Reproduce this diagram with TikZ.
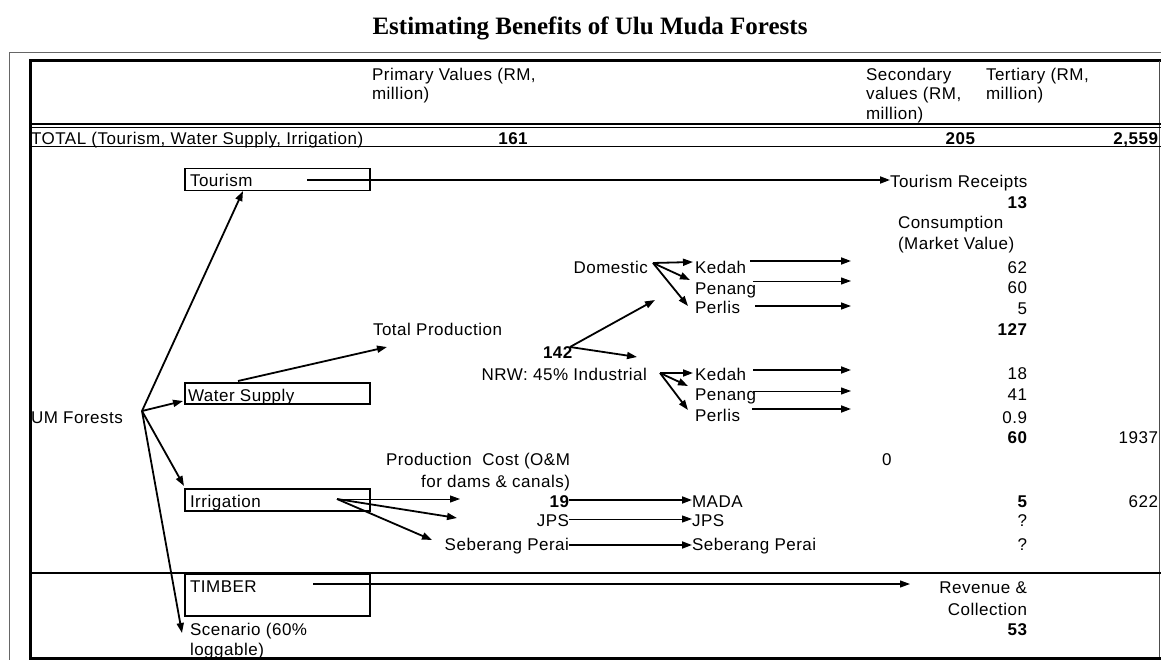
\documentclass[tikz,border=0pt]{standalone}
\usepackage{fontspec}
\setmainfont{Liberation Sans}[LetterSpace=3]
\newfontfamily\titlefont{Liberation Serif}
\usetikzlibrary{arrows.meta}
\begin{document}
\begin{tikzpicture}[x=1pt,y=-1pt,
  txt/.style={inner sep=0pt, outer sep=0pt, font=\fontsize{17}{20}\selectfont},
  lw/.style={txt, anchor=base west},
  le/.style={txt, anchor=base east},
  bw/.style={lw, font=\fontsize{17}{20}\selectfont\bfseries},
  be/.style={le, font=\fontsize{17}{20}\selectfont\bfseries},
  tip/.style={-{Triangle[length=10pt,width=7pt]}},
  arrk/.style={tip, line width=1.8pt},
  arrm/.style={tip, line width=1.4pt},
  arrt/.style={tip, line width=1pt},
  frameline/.style={line width=3pt},
  cbox/.style={draw, line width=1.5pt, inner sep=0pt, anchor=north west}]
\useasboundingbox (0,0) rectangle (1161,660);
% frames
\draw[line width=0.8pt, black!60] (9,661) -- (9,52) -- (1162,52);
\draw[frameline] (30,661) -- (30,61) -- (1162,61);
\draw[line width=1pt, black!70] (1159.5,61) -- (1159.5,660);
\draw[frameline] (30,658.5) -- (1162,658.5);
\draw[line width=2.5pt] (30,124) -- (1162,124);
\draw[line width=0.8pt] (30,127.5) -- (1162,127.5);
\draw[line width=1pt] (30,147) -- (1162,147);
\draw[line width=1.3pt] (30,573) -- (1162,573);
% title
\node[inner sep=0pt, anchor=base, font=\titlefont\bfseries\fontsize{25}{29}\selectfont] (title) at (590,35) {Estimating Benefits of Ulu Muda Forests};
% header
\node[lw] (pv1) at (372,81) {Primary Values (RM,};
\node[lw] (pv2) at (372,100) {million)};
\node[lw] (sv1) at (866,81) {Secondary};
\node[lw] (sv2) at (866,100) {values (RM,};
\node[lw] (sv3) at (866,120) {million)};
\node[lw] (tv1) at (986,81) {Tertiary (RM,};
\node[lw] (tv2) at (986,100) {million)};
% total row
\node[lw] (tot) at (31,145) {TOTAL (Tourism, Water Supply, Irrigation)};
\node[txt, anchor=base, font=\fontsize{17}{20}\selectfont\bfseries] (t161) at (513,145) {161};
\node[be] (t205) at (975,145) {205};
\node[be] (t2559) at (1158,145) {2,559};
% boxes
\node[cbox, minimum width=185pt, minimum height=22pt] (tourbox) at (184,168) {};
\node[lw] (tourism) at (190,187) {Tourism};
\node[cbox, minimum width=185pt, minimum height=21pt] (wsbox) at (184,382) {};
\node[lw] (ws) at (188,401) {Water Supply};
\node[cbox, minimum width=185pt, minimum height=22pt] (irbox) at (184,488) {};
\node[lw] (irr) at (190,507) {Irrigation};
\node[cbox, minimum width=185pt, minimum height=42pt] (timbox) at (184,573) {};
\node[lw] (timber) at (190,592) {TIMBER};
\node[lw] (scen1) at (190,635) {Scenario (60\%};
\node[lw] (scen2) at (190,655) {loggable)};
\node[lw] (umf) at (31,423) {UM Forests};
% right column
\node[lw] (trec) at (890,188) {Tourism Receipts};
\node[be] (n13) at (1027,209) {13};
\node[lw] (cons1) at (898,229) {Consumption};
\node[lw] (cons2) at (898,250) {(Market Value)};
\node[le] (n62) at (1027,273) {62};
\node[le] (n60a) at (1027,293) {60};
\node[le] (n5a) at (1027,314) {5};
\node[be] (n127) at (1027,335) {127};
\node[le] (n18) at (1027,379) {18};
\node[le] (n41) at (1027,400) {41};
\node[le] (n09) at (1027,423) {0.9};
\node[be] (n60b) at (1027,443) {60};
\node[le] (n1937) at (1158,443) {1937};
\node[lw] (n0) at (882,465) {0};
\node[be] (n5b) at (1027,507) {5};
\node[le] (q1) at (1027,526) {?};
\node[le] (q2) at (1027,550) {?};
\node[le] (n622) at (1158,507) {622};
\node[le] (rev1) at (1027,593) {Revenue \&};
\node[le] (rev2) at (1027,615) {Collection};
\node[be] (n53) at (1027,635) {53};
% middle
\node[lw] (totprod) at (373,335) {Total Production};
\node[bw] (n142) at (543,358) {142};
\node[le] (nrw) at (647,380) {NRW: 45\% Industrial};
\node[le] (dom) at (648,273) {Domestic};
\node[lw] (ked1) at (695,273) {Kedah};
\node[lw] (pen1) at (695,294) {Penang};
\node[lw] (per1) at (695,313) {Perlis};
\node[lw] (ked2) at (695,380) {Kedah};
\node[lw] (pen2) at (695,400) {Penang};
\node[lw] (per2) at (695,421) {Perlis};
\node[le] (pc1) at (570,465) {Production\ \ Cost (O\&M};
\node[le] (pc2) at (570,487) {for dams \& canals)};
\node[be] (n19) at (569,507) {19};
\node[le] (jpsL) at (569,526) {JPS};
\node[le] (sebL) at (569,550) {Seberang Perai};
\node[lw] (mada) at (692,507) {MADA};
\node[lw] (jpsR) at (692,526) {JPS};
\node[lw] (sebR) at (692,550) {Seberang Perai};
% coordinates for connector ends
\coordinate (um) at (142,411);
\coordinate (tourIn) at (243,191);
\coordinate (wsIn) at (183,401);
\coordinate (irIn) at (184,486);
\coordinate (scIn) at (182,633);
\coordinate (tourOut) at (307,180);
\coordinate (wsOut) at (238,381);
\coordinate (tpIn) at (387,347);
\coordinate (s142) at (570,347);
\coordinate (domIn) at (655,300);
\coordinate (indIn) at (637,357);
\coordinate (domS) at (653,263);
\coordinate (domK) at (693,262);
\coordinate (domP) at (690,280);
\coordinate (domL) at (688,306);
\coordinate (indS) at (660,373);
\coordinate (indK) at (693,373);
\coordinate (indP) at (688,386);
\coordinate (indL) at (688,410);
\coordinate (k1a) at (750,261); \coordinate (k1b) at (851,261);
\coordinate (p1a) at (753,281); \coordinate (p1b) at (851,281);
\coordinate (l1a) at (755,306); \coordinate (l1b) at (851,306);
\coordinate (k2a) at (753,370); \coordinate (k2b) at (851,370);
\coordinate (p2a) at (753,391); \coordinate (p2b) at (851,391);
\coordinate (l2a) at (752,409); \coordinate (l2b) at (851,409);
\coordinate (irS) at (337,499);
\coordinate (irA) at (460,499);
\coordinate (irB) at (457,518);
\coordinate (irC) at (432,540);
\coordinate (timA) at (313,584);
\coordinate (timT) at (910,584);
\coordinate (timM1) at (483,584);
\coordinate (timM2) at (610,584);
\coordinate (timM3) at (860,584);
% connectors
\draw[arrk] (um) -- (tourIn);
\draw[arrk] (um) -- (wsIn);
\draw[arrk] (um) -- (irIn);
\draw[arrk] (um) -- (scIn);
\draw[arrk] (tourOut) -- (trec.west |- tourOut);
\draw[arrk] (wsOut) -- (tpIn);
\draw[arrk] (s142) -- (domIn);
\draw[arrk] (s142) -- (indIn);
\draw[arrk] (domS) -- (domK);
\draw[arrk] (domS) -- (domP);
\draw[arrk] (domS) -- (domL);
\draw[arrk] (indS) -- (indK);
\draw[arrk] (indS) -- (indP);
\draw[arrk] (indS) -- (indL);
\draw[arrk] (k1a) -- (k1b);
\draw[arrt] (p1a) -- (p1b);
\draw[arrm] (l1a) -- (l1b);
\draw[arrk] (k2a) -- (k2b);
\draw[arrt] (p2a) -- (p2b);
\draw[arrk] (l2a) -- (l2b);
\draw[arrt] (irS) -- (irA);
\draw[arrk] (irS) -- (irB);
\draw[arrk] (irS) -- (irC);
\draw[arrk] (n19.east |- 0,500) -- (mada.west |- 0,500);
\draw[arrt] (jpsL.east |- 0,519) -- (jpsR.west |- 0,519);
\draw[arrk] (sebL.east |- 0,545) -- (sebR.west |- 0,545);
\draw[tip, line width=1.1pt] (timA) -- (timT);
\draw[line width=2pt] (timA) -- (timM1);
\draw[line width=2pt] (timM2) -- (timM3);
\end{tikzpicture}
\end{document}
